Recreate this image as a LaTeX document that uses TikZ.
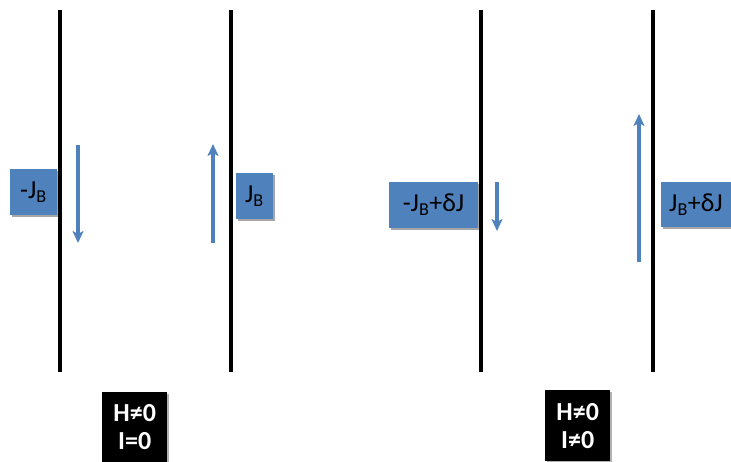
\documentclass[tikz,border=0pt]{standalone}
\usepackage{fontspec}
\setmainfont{Carlito}
\usetikzlibrary{arrows.meta,shadows}
\definecolor{boxblue}{HTML}{4F81BD}
\tikzset{
  wall/.style={line width=3.8pt, black},
  jbox/.style={fill=boxblue, draw=none, inner sep=0pt, font=\fontsize{26}{28}\selectfont, text=black,
    drop shadow={shadow xshift=1.5pt, shadow yshift=-1.5pt, opacity=0.35, fill=black}},
  flow/.style={line width=4pt, boxblue, -{Stealth[length=12pt,width=11pt,inset=3pt]}},
  fieldbox/.style={fill=black, inner sep=0pt, text=white, align=center,
    font=\fontsize{26}{28}\selectfont\bfseries,
    drop shadow={shadow xshift=1.5pt, shadow yshift=-1.5pt, opacity=0.3, fill=black}}
}
\begin{document}
\begin{tikzpicture}[x=1pt,y=-1pt]
\useasboundingbox (0,0) rectangle (731,461);
% walls
\coordinate (w1t) at (60,10); \coordinate (w1b) at (60,372);
\coordinate (w2t) at (231,10); \coordinate (w2b) at (231,372);
\coordinate (w3t) at (481,10); \coordinate (w3b) at (481,372);
\coordinate (w4t) at (653,10); \coordinate (w4b) at (653,372);
\draw[wall] (w1t) -- (w1b);
\draw[wall] (w2t) -- (w2b);
\draw[wall] (w3t) -- (w3b);
\draw[wall] (w4t) -- (w4b);
% boxes
\node[jbox, minimum width=47pt, minimum height=46pt] (b1) at (33.5,192) {-J\textsubscript{B}};
\node[jbox, minimum width=37pt, minimum height=46pt] (b2) at (254.5,196) {J\textsubscript{B}};
\node[jbox, minimum width=89pt, minimum height=46pt] (b3) at (433.5,205) {-J\textsubscript{B}+δJ};
\node[jbox, minimum width=70pt, minimum height=45pt] (b4) at (696,204.5) {J\textsubscript{B}+δJ};
% arrows
\coordinate (a1s) at (78,145); \coordinate (a1e) at (78,243);
\coordinate (a2s) at (213,243); \coordinate (a2e) at (213,144);
\coordinate (a3s) at (497,182); \coordinate (a3e) at (497,231);
\coordinate (a4s) at (639,262); \coordinate (a4e) at (639,114);
\draw[flow] (a1s) -- (a1e);
\draw[flow] (a2s) -- (a2e);
\draw[flow] (a3s) -- (a3e);
\draw[flow] (a4s) -- (a4e);
% field boxes
\node[fieldbox, minimum width=65pt, minimum height=70pt, anchor=north west] (f1) at (102,392) {H≠0\\I=0};
\node[fieldbox, minimum width=65pt, minimum height=71pt, anchor=north west] (f2) at (545,390) {H≠0\\I≠0};
\end{tikzpicture}
\end{document}
